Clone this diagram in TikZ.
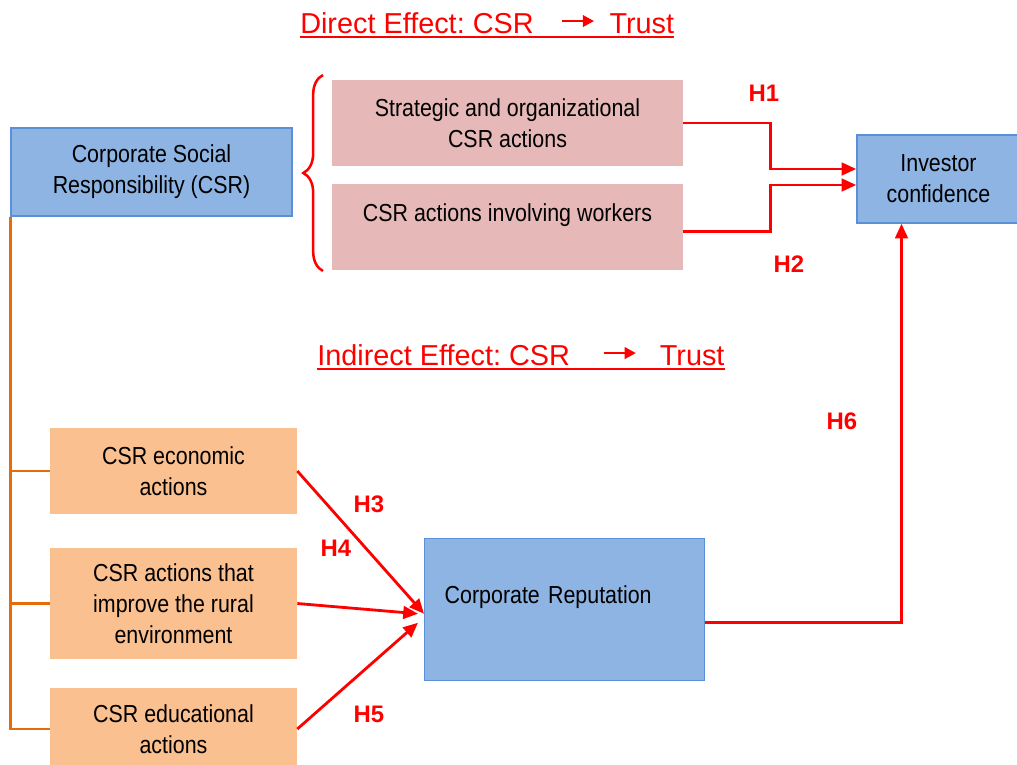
\documentclass[tikz,border=0pt]{standalone}
\usepackage{fontspec}
\setmainfont{Liberation Sans}
\newfontfamily\narrowsf[FakeStretch=0.87]{Liberation Sans}
\usepackage{tikz}
\usetikzlibrary{arrows.meta,decorations.pathreplacing}
\frenchspacing
\definecolor{boxblue}{HTML}{8EB4E3}
\definecolor{boxedge}{HTML}{5B8FD6}
\definecolor{boxpink}{HTML}{E6B9B8}
\definecolor{boxorange}{HTML}{FAC090}
\definecolor{branchorange}{HTML}{E46C0A}
\tikzstyle{bluebox} = [rectangle, draw=boxedge, fill=boxblue, line width=1pt, inner sep=0pt, align=center, font=\narrowsf\fontsize{17.5}{22}\selectfont]
\tikzstyle{pinkbox} = [rectangle, fill=boxpink, inner sep=0pt, align=center, font=\narrowsf\fontsize{17.5}{22}\selectfont]
\tikzstyle{orangebox} = [rectangle, fill=boxorange, inner sep=0pt, align=center, font=\narrowsf\fontsize{17.5}{22}\selectfont]
\tikzstyle{effect} = [anchor=base west, inner sep=0pt, text=red, font=\fontsize{20.5}{24}\selectfont]
\tikzstyle{hyp} = [text=red, font=\bfseries\fontsize{17}{20}\selectfont]
\tikzstyle{arrow} = [red, line width=2pt, -{Triangle[length=10.5pt,width=9pt]}]
\tikzstyle{branch} = [branchorange, line width=1.8pt]
\newcommand{\trustArrow}{%
	\tikz[baseline=-8.5pt] \draw[red, line width=2pt, -{Triangle[length=8pt,width=8pt]}] (0,0) -- (23pt,0);%
}

\begin{document}
\begin{tikzpicture}[x=0.025cm, y=-0.025cm]
	\useasboundingbox (0,0) rectangle (1017,764);
	\node (direct) at (300, 33) [effect] {Direct Effect: CSR\hspace{19pt}\trustArrow\hspace{10pt}Trust};
	\node (indirect) at (317, 365) [effect] {Indirect Effect: CSR\hspace{23pt}\trustArrow\hspace{16pt}Trust};
	\draw [red, line width=1.6pt] ([yshift=-3pt]direct.base west) -- ([yshift=-3pt]direct.base east);
	\draw [red, line width=1.6pt] ([yshift=-3pt]indirect.base west) -- ([yshift=-3pt]indirect.base east);
	\node (csr) at (151.5, 172) [bluebox, minimum width=7.025cm, minimum height=2.2cm] {Corporate Social\\Responsibility (CSR)};
	\node (strat) at (507.5, 123) [pinkbox, minimum width=8.775cm, minimum height=2.15cm] {Strategic and organizational\\CSR actions};
	\node (workers) at (507.5, 227) [pinkbox, minimum width=8.775cm, text height=0.925cm, text depth=1.225cm] {CSR actions involving workers};
	\node (inv) at (938.5, 179) [bluebox, minimum width=4.075cm, minimum height=2.2cm] {Investor\\confidence};
	\node (econ) at (173.5, 471) [orangebox, minimum width=6.175cm, minimum height=2.15cm] {CSR economic\\actions};
	\node (rural) at (173.5, 603.5) [orangebox, minimum width=6.175cm, minimum height=2.775cm] {CSR actions that\\improve the rural\\environment};
	\node (edu) at (173.5, 729) [orangebox, minimum width=6.175cm, minimum height=2.05cm] {CSR educational\\actions};
	\node (rep) at (424, 538) [bluebox, anchor=north west, inner xsep=0.5cm, text width=6cm, align=left, text height=1.625cm, text depth=1.925cm] {Corporate Reputation};
	\node (h1) at (764, 93) [hyp] {H1};
	\node (h2) at (789, 264) [hyp] {H2};
	\node (h3) at (369, 504) [hyp] {H3};
	\node (h4) at (336, 548) [hyp] {H4};
	\node (h5) at (369, 714) [hyp] {H5};
	\node (h6) at (842, 421) [hyp] {H6};
	% brace over the two direct blocks
	\draw [red, line width=1.8pt, decorate, decoration={brace, amplitude=14pt}] (323, 271) -- (323, 75);
	% CSR dimensions
	\draw [branch] (csr.south west) |- (edu.west);
	\draw [branch] (csr.south west |- econ.west) -- (econ.west);
	\draw [branch] (csr.south west |- rural.west) -- (rural.west);
	\draw [arrow] (strat.east) -- ++(87, 0) |- ([yshift=0.25cm]inv.west);
	\draw [arrow] ([yshift=-0.12cm]workers.east) -- ++(87, 0) |- ([yshift=-0.15cm]inv.west);
	\draw [arrow] (econ.east) -- ([yshift=-0.1cm]rep.west);
	\draw [arrow] (rural.east) -- ([xshift=-0.15cm, yshift=-0.1cm]rep.west);
	\draw [arrow] (edu.east) -- ([xshift=-0.15cm, yshift=-0.325cm]rep.west);
	\draw [arrow] ([yshift=-0.325cm]rep.east) -| ([xshift=-0.925cm]inv.south);
\end{tikzpicture}
\end{document}
